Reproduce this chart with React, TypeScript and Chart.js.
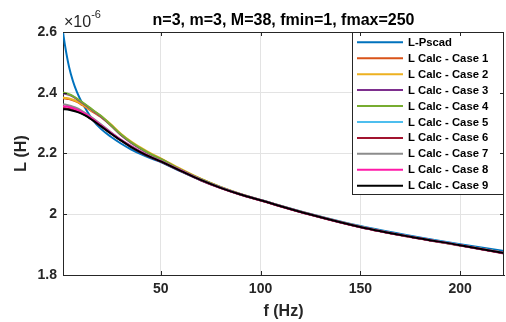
import React, { useEffect, useRef } from "react";
import { Chart, registerables } from "chart.js";

Chart.register(...registerables);

const chartTitle = "n=3, m=3, M=38, fmin=1, fmax=250";
const xLabel = "f (Hz)";
const yLabel = "L (H)";
const exponentBase = "×10";
const exponentPower = "-6";

const freq = [1, 2, 4, 6, 8, 10, 13, 16, 20, 25, 30, 35, 40, 45, 50, 60, 70, 80, 90, 100, 125, 150, 175, 200, 222];

const lPscad = [2.600, 2.556, 2.486, 2.438, 2.402, 2.374, 2.340, 2.310, 2.281, 2.255, 2.233, 2.214, 2.198, 2.184, 2.172, 2.141, 2.112, 2.087, 2.066, 2.047, 2.001, 1.961, 1.929, 1.901, 1.879];
const case1 = [2.382, 2.381, 2.379, 2.375, 2.370, 2.362, 2.350, 2.337, 2.320, 2.292, 2.262, 2.237, 2.216, 2.198, 2.182, 2.147, 2.116, 2.089, 2.066, 2.046, 1.999, 1.958, 1.926, 1.898, 1.872];
const case2 = [2.384, 2.383, 2.381, 2.377, 2.372, 2.364, 2.352, 2.339, 2.323, 2.296, 2.265, 2.240, 2.219, 2.200, 2.184, 2.149, 2.117, 2.090, 2.067, 2.047, 2.000, 1.959, 1.926, 1.898, 1.873];
const case3 = [2.398, 2.397, 2.393, 2.387, 2.379, 2.370, 2.356, 2.341, 2.322, 2.293, 2.261, 2.236, 2.215, 2.196, 2.181, 2.146, 2.115, 2.088, 2.065, 2.046, 1.999, 1.958, 1.926, 1.898, 1.872];
const case4 = [2.400, 2.399, 2.395, 2.389, 2.381, 2.372, 2.358, 2.343, 2.324, 2.294, 2.263, 2.238, 2.217, 2.198, 2.182, 2.147, 2.116, 2.089, 2.066, 2.047, 2.000, 1.959, 1.926, 1.898, 1.873];
const case5 = [2.347, 2.347, 2.345, 2.342, 2.338, 2.333, 2.323, 2.310, 2.291, 2.267, 2.244, 2.223, 2.205, 2.189, 2.175, 2.144, 2.114, 2.088, 2.066, 2.047, 2.000, 1.959, 1.927, 1.899, 1.873];
const case6 = [2.350, 2.349, 2.347, 2.344, 2.339, 2.334, 2.323, 2.310, 2.290, 2.266, 2.243, 2.222, 2.203, 2.187, 2.173, 2.142, 2.112, 2.086, 2.064, 2.045, 1.998, 1.957, 1.925, 1.897, 1.871];
const case7 = [2.362, 2.361, 2.358, 2.354, 2.349, 2.342, 2.330, 2.316, 2.296, 2.270, 2.246, 2.225, 2.206, 2.190, 2.176, 2.144, 2.114, 2.088, 2.066, 2.047, 2.000, 1.959, 1.926, 1.898, 1.873];
const case8 = [2.356, 2.355, 2.353, 2.349, 2.344, 2.338, 2.327, 2.313, 2.293, 2.268, 2.245, 2.224, 2.205, 2.189, 2.175, 2.144, 2.113, 2.087, 2.065, 2.046, 1.999, 1.958, 1.926, 1.898, 1.872];
const case9 = [2.346, 2.346, 2.344, 2.341, 2.337, 2.332, 2.322, 2.309, 2.290, 2.266, 2.243, 2.222, 2.204, 2.188, 2.174, 2.143, 2.113, 2.087, 2.065, 2.046, 1.999, 1.958, 1.926, 1.898, 1.872];

const seriesNames = ["L-Pscad", "L Calc - Case 1", "L Calc - Case 2", "L Calc - Case 3", "L Calc - Case 4", "L Calc - Case 5", "L Calc - Case 6", "L Calc - Case 7", "L Calc - Case 8", "L Calc - Case 9"];
const seriesValues = [lPscad, case1, case2, case3, case4, case5, case6, case7, case8, case9];
const seriesColors = ["#0072BD", "#D95319", "#EDB120", "#7E2F8E", "#77AC30", "#4DBEEE", "#A2142F", "#8C8C8C", "#FF1AA8", "#000000"];

const xTickValues = [50, 100, 150, 200];
const xTickLabels = ["50", "100", "150", "200"];
const yTickValues = [1.8, 2.0, 2.2, 2.4, 2.6];
const yTickLabels = ["1.8", "2", "2.2", "2.4", "2.6"];
const xMin = 1;
const xMax = 222;
const yMin = 1.8;
const yMax = 2.6;

const FONT = '"Liberation Sans", Arial, Helvetica, sans-serif';
const TEXT = "#262626";

const decorPlugin = {
  id: "decor",
  afterDraw(chart: any) {
    const { ctx, chartArea } = chart;
    const { left, right, top, bottom } = chartArea;
    const xs = chart.scales.x;
    const ys = chart.scales.y;
    ctx.save();

    // title
    ctx.fillStyle = "#000000";
    ctx.font = `bold 16px ${FONT}`;
    ctx.textAlign = "center";
    ctx.textBaseline = "alphabetic";
    ctx.fillText(chartTitle, (left + right) / 2, 25);

    // exponent
    ctx.fillStyle = TEXT;
    ctx.textAlign = "left";
    ctx.font = `16px ${FONT}`;
    ctx.fillText(exponentBase, left + 1, 27);
    const w = ctx.measureText(exponentBase).width;
    ctx.font = `11px ${FONT}`;
    ctx.fillText(exponentPower, left + 1 + w, 18);

    // legend
    const lx0 = 352;
    const lx1 = right;
    const ly0 = top;
    const ly1 = 195;
    ctx.fillStyle = "#ffffff";
    ctx.fillRect(lx0, ly0, lx1 - lx0, ly1 - ly0);
    ctx.strokeStyle = TEXT;
    ctx.lineWidth = 1;
    ctx.strokeRect(lx0 + 0.5, ly0 + 0.5, lx1 - lx0 - 1, ly1 - ly0 - 1);
    ctx.font = `bold 11.3px ${FONT}`;
    ctx.textBaseline = "middle";
    ctx.textAlign = "left";
    for (let i = 0; i < seriesNames.length; i++) {
      const yy = 42.3 + i * 15.93;
      ctx.strokeStyle = seriesColors[i];
      ctx.lineWidth = 2;
      ctx.beginPath();
      ctx.moveTo(357, yy);
      ctx.lineTo(403, yy);
      ctx.stroke();
      ctx.fillStyle = "#000000";
      ctx.fillText(seriesNames[i], 408, yy + 0.5);
    }

    // box top and right
    ctx.strokeStyle = TEXT;
    ctx.lineWidth = 1;
    ctx.beginPath();
    ctx.moveTo(left, Math.round(top) + 0.5);
    ctx.lineTo(right, Math.round(top) + 0.5);
    ctx.moveTo(Math.round(right) - 0.5, top);
    ctx.lineTo(Math.round(right) - 0.5, bottom);
    ctx.stroke();

    // inward ticks
    const tl = 4;
    ctx.beginPath();
    for (const v of xTickValues) {
      const px = Math.round(xs.getPixelForValue(v)) + 0.5;
      ctx.moveTo(px, bottom);
      ctx.lineTo(px, bottom - tl);
      ctx.moveTo(px, top);
      ctx.lineTo(px, top + tl);
    }
    for (const v of yTickValues) {
      const py = Math.round(ys.getPixelForValue(v)) + 0.5;
      ctx.moveTo(left, py);
      ctx.lineTo(left + tl, py);
      ctx.moveTo(right, py);
      ctx.lineTo(right - tl, py);
    }
    ctx.stroke();
    ctx.restore();
  },
};

export default function App() {
  const ref = useRef<HTMLCanvasElement | null>(null);

  useEffect(() => {
    document.body.style.margin = "0";
    const canvas = ref.current;
    if (!canvas) return;
    const datasets = seriesNames.map((name, i) => ({
      label: name,
      data: freq.map((f, j) => ({ x: f, y: seriesValues[i][j] })),
      borderColor: seriesColors[i],
      backgroundColor: seriesColors[i],
      borderWidth: 2,
      pointRadius: 0,
      fill: false,
      cubicInterpolationMode: "monotone" as const,
      order: seriesNames.length - i,
    }));
    const chart = new Chart(canvas, {
      type: "line",
      data: { datasets },
      plugins: [decorPlugin],
      options: {
        animation: false,
        responsive: false,
        maintainAspectRatio: false,
        layout: { padding: { top: 32, right: 2, left: 0, bottom: 0 } },
        plugins: {
          legend: { display: false },
          tooltip: { enabled: false },
          title: { display: false },
        },
        scales: {
          x: {
            type: "linear",
            min: xMin,
            max: xMax,
            afterBuildTicks: (axis: any) => {
              axis.ticks = xTickValues.map((v) => ({ value: v }));
            },
            afterFit: (scale: any) => {
              scale.height = 47;
            },
            ticks: {
              callback: (value: any) => {
                const k = xTickValues.indexOf(Number(value));
                return k >= 0 ? xTickLabels[k] : "";
              },
              font: { family: FONT, size: 14, weight: "bold" },
              color: TEXT,
              padding: 6,
              maxRotation: 0,
              autoSkip: false,
            },
            grid: { color: "#e3e3e3", drawTicks: false, lineWidth: 1 },
            border: { display: true, color: TEXT, width: 1 },
            title: {
              display: true,
              text: xLabel,
              font: { family: FONT, size: 16, weight: "bold" },
              color: TEXT,
              padding: { top: 0, bottom: 1 },
            },
          },
          y: {
            type: "linear",
            min: yMin,
            max: yMax,
            afterBuildTicks: (axis: any) => {
              axis.ticks = yTickValues.map((v) => ({ value: v }));
            },
            afterFit: (scale: any) => {
              scale.width = 63;
            },
            ticks: {
              callback: (value: any) => {
                const k = yTickValues.findIndex((t) => Math.abs(t - Number(value)) < 1e-9);
                return k >= 0 ? yTickLabels[k] : "";
              },
              font: { family: FONT, size: 14, weight: "bold" },
              color: TEXT,
              padding: 6,
              autoSkip: false,
            },
            grid: { color: "#e3e3e3", drawTicks: false, lineWidth: 1 },
            border: { display: true, color: TEXT, width: 1 },
            title: {
              display: true,
              text: yLabel,
              font: { family: FONT, size: 16, weight: "bold" },
              color: TEXT,
              padding: { top: 12, bottom: 0 },
            },
          },
        },
      },
    });
    return () => chart.destroy();
  }, []);

  return (
    <div style={{ width: 506, height: 322 }}>
      <canvas ref={ref} width={506} height={322} style={{ display: "block" }} />
    </div>
  );
}
